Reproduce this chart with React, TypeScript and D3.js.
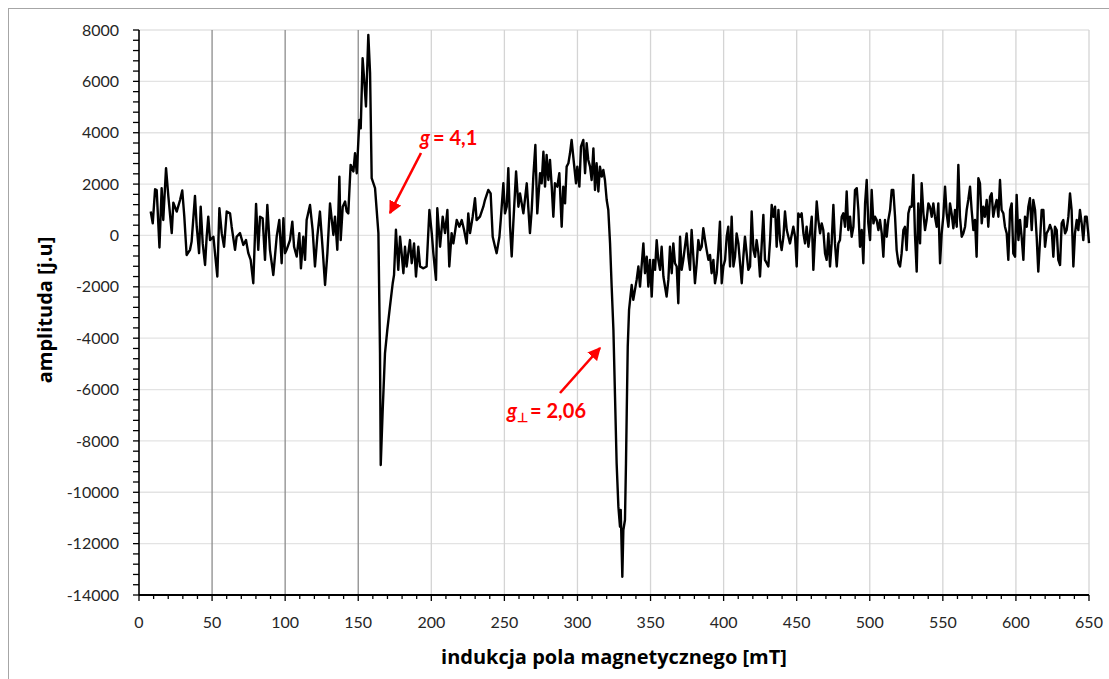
import React from "react";
import * as d3 from "d3";

const xTicks = [0, 50, 100, 150, 200, 250, 300, 350, 400, 450, 500, 550, 600, 650];
const yTicks = [8000, 6000, 4000, 2000, 0, -2000, -4000, -6000, -8000, -10000, -12000, -14000];
const xTitle = "indukcja pola magnetycznego [mT]";
const yTitle = "amplituda [j.u]";

// [field mT, amplitude]
const spectrum: [number, number][] = [
  [8.0, 930], [9.4, 470], [11.0, 1800], [12.1, 1770], [14.0, -470], [15.5, 1840], [16.6, 600], [18.5, 2620],
  [20.1, 1510], [22.4, 90], [23.5, 1280], [25.8, 930], [28.1, 1380], [29.6, 1750], [31.0, 730], [32.6, -760],
  [34.9, -560], [36.0, -240], [38.3, 1540], [39.5, 340], [41.1, -690], [42.2, 1120], [43.6, -310], [45.2, -1150],
  [46.3, -50], [47.4, 730], [48.6, -180], [50.9, -50], [52.0, -690], [53.6, -1600], [55.0, 1060], [56.6, 90],
  [58.2, -440], [60.0, 930], [62.3, 860], [63.4, 340], [65.7, -560], [66.8, -50], [69.1, 90], [71.4, -370],
  [73.2, -180], [74.8, -690], [76.4, -950], [78.2, -1860], [80.1, 1230], [81.6, -560], [82.8, 730], [84.6, 670],
  [86.2, -950], [87.8, 1190], [89.6, -560], [91.9, -1540], [94.2, -50], [96.0, 600], [97.6, -1080], [98.8, 670],
  [99.9, -690], [101.0, -560], [103.3, -180], [104.9, 540], [106.1, -440], [107.9, -820], [109.7, 90], [110.8, -1280],
  [112.4, -50], [113.6, -950], [114.7, 600], [117.0, 1190], [118.8, 220], [120.4, -1210], [122.0, -50], [123.8, 930],
  [125.7, -560], [127.3, -1930], [128.9, -690], [130.7, 1250], [133.0, 20], [134.1, 730], [135.7, -560], [137.1, 2290],
  [138.0, -180], [139.4, 1120], [141.0, 1320], [142.1, 930], [143.2, 860], [144.8, 2750], [146.7, 2490], [147.8, 3200],
  [149.0, 2420], [150.8, 4500], [151.7, 4170], [153.0, 6900], [154.0, 6120], [155.3, 5020], [156.9, 7810], [158.1, 6320],
  [159.2, 2230], [161.5, 1840], [163.8, 90], [164.9, -4590], [165.4, -8940], [166.7, -6860], [168.3, -4590], [169.9, -3680],
  [171.7, -2770], [173.6, -1860], [174.5, -1540], [175.8, 220], [177.4, -1340], [178.6, -50], [179.7, -690], [180.9, -1470],
  [182.0, -440], [183.1, -1210], [185.4, -180], [186.6, -1080], [188.2, -310], [189.5, -1600], [191.1, -440], [192.3, -1210],
  [194.6, -1280], [196.8, -1210], [198.7, 990], [200.3, 90], [201.4, -690], [203.2, -1730], [204.1, 1060], [206.0, -440],
  [207.8, 730], [209.4, 90], [211.0, 990], [212.3, -1210], [213.9, 90], [215.1, -310], [217.4, 600], [219.2, 340],
  [220.8, 600], [222.4, 220], [224.2, -310], [225.3, 860], [226.5, 90], [228.3, 730], [229.9, 1450], [231.0, 600],
  [233.3, 730], [235.6, 1120], [236.7, 1380], [239.0, 1770], [240.6, 1640], [242.0, -50], [243.6, -440], [244.7, -690],
  [246.6, -50], [247.5, 600], [249.3, 2030], [250.4, 860], [251.6, 1120], [252.7, 2620], [253.9, 340], [255.0, -820],
  [256.1, 470], [258.0, 2490], [259.6, 1120], [260.7, 1640], [263.0, 860], [265.3, 2030], [267.5, 90], [268.7, 990],
  [269.8, 2290], [271.2, 3520], [272.5, 860], [274.4, 2420], [275.5, 2030], [276.7, 3260], [277.8, 1900], [278.9, 3130],
  [280.1, 2160], [281.2, 2940], [282.4, 1900], [283.5, 730], [284.6, 2030], [286.2, 1900], [287.6, 2420], [289.2, 340],
  [290.3, 1900], [291.5, 1250], [292.6, 2680], [293.8, 2810], [294.9, 3200], [296.0, 3720], [297.6, 2810], [299.0, 2030],
  [299.9, 2680], [301.3, 1900], [302.4, 3460], [304.0, 3720], [305.2, 2420], [306.3, 3590], [307.4, 2940], [308.6, 2680],
  [309.7, 2160], [310.9, 3390], [312.0, 1770], [313.1, 2810], [314.3, 1710], [315.4, 2680], [316.6, 2290], [317.7, 2550],
  [318.8, 2160], [320.0, 1380], [321.1, 990], [322.3, -310], [323.4, -1990], [324.6, -3680], [325.7, -6280], [326.8, -8870],
  [328.0, -10560], [329.1, -11340], [329.6, -10690], [330.7, -13290], [331.4, -11470], [332.5, -11080], [333.2, -8870], [333.7, -6930],
  [334.4, -4330], [335.3, -2900], [337.1, -1930], [338.2, -2510], [340.5, -1730], [341.7, -1210], [342.8, -1990], [345.1, -310],
  [346.2, -1470], [347.4, -830], [348.5, -1990], [349.6, -950], [350.8, -2380], [351.9, -950], [353.1, -1340], [354.2, -180],
  [355.3, -950], [356.5, -1340], [357.6, -440], [358.8, -1600], [359.9, -1990], [361.0, -2380], [362.2, -1730], [363.3, -440],
  [364.5, -1470], [365.6, -310], [366.7, -1080], [367.9, -1210], [369.0, -2640], [370.2, -50], [371.3, -1340], [372.4, -950],
  [374.7, 80], [375.9, -830], [377.0, -1340], [378.1, 210], [379.3, -830], [380.4, -1860], [381.6, -1080], [382.7, -180],
  [383.9, -570], [385.0, -440], [386.1, 280], [387.3, -180], [388.4, -570], [389.6, -950], [390.7, -760], [391.8, -1470],
  [393.0, -950], [394.1, -1860], [395.3, -1470], [396.4, -570], [397.5, 540], [398.7, -1860], [399.8, -1210], [401.0, -950],
  [402.1, -50], [403.2, 340], [404.4, -1210], [405.5, 730], [406.7, -1210], [407.8, -830], [408.9, 80], [410.1, -310],
  [412.4, -1860], [413.5, -830], [414.6, -50], [416.9, -1340], [418.1, -1210], [419.2, 930], [420.4, -570], [421.5, -830],
  [422.6, -180], [423.8, -700], [424.9, -1600], [426.1, -310], [427.2, 800], [428.3, -950], [429.5, -1080], [430.6, -1210],
  [431.8, -180], [432.9, 1190], [434.0, 730], [435.2, 1120], [436.3, -440], [437.5, 990], [438.6, -180], [439.7, -570],
  [440.9, -50], [442.0, 930], [443.2, 210], [445.4, -310], [447.7, 340], [448.9, -50], [450.0, -1210], [451.1, 860],
  [452.3, 730], [453.4, 860], [454.6, 80], [455.7, -310], [456.8, 340], [458.0, -440], [459.1, 80], [460.3, 730],
  [461.4, -1340], [462.5, -50], [463.7, 1320], [464.8, 600], [466.0, 80], [467.1, 470], [468.2, 210], [469.4, -700],
  [470.5, -950], [471.7, 80], [472.8, -1210], [473.9, -310], [475.1, 1190], [476.2, -310], [477.4, -1210], [478.5, -310],
  [479.6, -180], [480.8, 730], [481.9, 860], [483.1, 340], [484.2, 1710], [485.3, 210], [486.5, 730], [487.6, -50],
  [488.8, 340], [489.9, 1770], [491.1, 1840], [492.2, 990], [493.3, -440], [494.5, 210], [495.6, -1080], [496.8, 1250],
  [497.9, 2160], [499.0, 470], [500.2, -180], [501.3, 1770], [502.5, 470], [503.6, 730], [504.7, 600], [505.9, 210],
  [507.0, 600], [508.2, 80], [509.3, -830], [510.4, 600], [511.6, -50], [512.7, 600], [513.9, 990], [515.0, 1770],
  [516.1, 1770], [517.3, 730], [518.4, -570], [519.6, -1080], [520.7, -1210], [521.8, -700], [523.0, 210], [524.1, 340],
  [525.2, -570], [526.4, 860], [527.5, 1120], [528.7, 1120], [529.8, 2360], [530.9, 80], [532.1, -1410], [533.2, 1250],
  [534.4, -310], [535.5, 2030], [536.7, 860], [537.8, 210], [538.9, 600], [540.1, 1250], [541.2, 1120], [542.4, 730],
  [543.5, 1250], [544.6, 730], [545.8, 340], [546.9, 1250], [548.1, -1080], [549.2, 80], [550.3, 730], [551.5, 1900],
  [552.6, 860], [553.8, 340], [554.9, 1250], [556.0, 860], [557.2, 280], [558.3, 990], [559.5, 340], [560.6, 2750],
  [561.7, 730], [562.9, -50], [564.0, 80], [565.2, 340], [566.3, 990], [567.4, 1380], [568.6, 1900], [569.7, 990],
  [570.9, 210], [572.0, 600], [573.1, -830], [574.3, 2230], [575.4, 2030], [576.6, 470], [577.7, 1120], [578.8, 730],
  [580.0, 1380], [581.1, 340], [582.3, 1510], [583.4, 1640], [584.5, 730], [585.7, 1120], [586.8, 1380], [588.0, 730],
  [589.1, 2160], [590.2, 990], [591.4, 860], [592.5, 340], [593.7, 80], [594.8, -950], [596.0, 990], [597.1, 1250],
  [598.2, -700], [599.4, -830], [600.5, 1580], [601.7, -180], [602.8, 600], [603.9, -50], [605.1, -950], [606.2, 730],
  [607.4, 340], [608.5, 1120], [609.6, 1450], [610.8, 210], [611.9, 1380], [613.1, 990], [614.2, -50], [615.3, -1410],
  [616.5, -180], [617.6, 990], [618.8, 990], [619.9, -440], [621.0, 80], [622.2, 210], [623.3, 410], [624.5, 210],
  [625.6, -830], [626.7, 340], [627.9, 210], [629.0, -950], [630.2, -1150], [631.3, 470], [632.4, 600], [633.6, 80],
  [634.7, 210], [635.9, 730], [637.0, 1640], [638.1, 990], [639.3, -1210], [640.4, 80], [641.6, 600], [642.7, 210],
  [643.8, 990], [645.0, 470], [646.1, -180], [647.3, 730], [648.4, 730], [649.5, 80], [650.0, -300],
];

const W = 1109;
const H = 679;
const M = { left: 139, right: 1089, top: 30, bottom: 595 };

export default function App() {
  const x = d3.scaleLinear().domain([0, 650]).range([M.left, M.right]);
  const y = d3.scaleLinear().domain([-14000, 8000]).range([M.bottom, M.top]);
  const line = d3
    .line<[number, number]>()
    .x((d) => x(d[0]))
    .y((d) => y(d[1]))
    .curve(d3.curveLinear);
  const xMinor = d3.range(0, 651, 10);
  const yMinor = d3.range(-14000, 8001, 400);
  const font = "Lato, 'Open Sans', Arial, sans-serif";
  const titleFont = "'Open Sans', Lato, Arial, sans-serif";
  const red = "#ff0000";

  return (
    <svg
      width={W}
      height={H}
      style={{ position: "absolute", left: 0, top: 0, background: "#fff" }}
      fontFamily={font}
    >
      <defs>
        <marker id="ah" viewBox="0 0 10 10" refX="9" refY="5" markerWidth="5" markerHeight="5" orient="auto">
          <path d="M0,0 L10,5 L0,10 z" fill={red} />
        </marker>
      </defs>
      <rect x={8.5} y={8.5} width={1200} height={800} fill="#fff" stroke="#a6a6a6" strokeWidth={1} />
      {/* horizontal gridlines */}
      {yTicks.map((t) => (
        <line key={"hg" + t} x1={M.left} x2={M.right} y1={y(t)} y2={y(t)} stroke="#e3e3e3" strokeWidth={1.3} />
      ))}
      {/* vertical gridlines */}
      {xTicks.filter((t) => t > 0).map((t) => (
        <line
          key={"vg" + t}
          x1={x(t)}
          x2={x(t)}
          y1={M.top}
          y2={M.bottom}
          stroke={t <= 150 ? "#8c8c8c" : "#d4d4d4"}
          strokeWidth={1.3}
        />
      ))}
      {/* data */}
      <path d={line(spectrum) || ""} fill="none" stroke="#000" strokeWidth={2.4} strokeLinejoin="round" />
      {/* axes */}
      <line x1={M.left} x2={M.left} y1={M.top} y2={M.bottom} stroke="#000" strokeWidth={1.6} />
      <line x1={M.left} x2={M.right} y1={M.bottom} y2={M.bottom} stroke="#000" strokeWidth={1.8} />
      {yMinor.map((t) => (
        <line key={"ym" + t} x1={M.left - 6} x2={M.left} y1={y(t)} y2={y(t)} stroke="#000" strokeWidth={1.3} />
      ))}
      {xMinor.map((t) => (
        <line key={"xm" + t} x1={x(t)} x2={x(t)} y1={M.bottom} y2={M.bottom + (t % 50 === 0 ? 6 : 4)} stroke="#000" strokeWidth={1.3} />
      ))}
      {yTicks.map((t) => (
        <text key={"yl" + t} x={119} y={y(t)} dy="0.35em" textAnchor="end" fontSize={16} fill="#262626">
          {t}
        </text>
      ))}
      {xTicks.map((t) => (
        <text key={"xl" + t} x={x(t)} y={628} textAnchor="middle" fontSize={16} fill="#262626">
          {t}
        </text>
      ))}
      <text x={614} y={664} textAnchor="middle" fontSize={20} fontWeight="bold" fill="#000" fontFamily={titleFont}>
        {xTitle}
      </text>
      <text
        transform="translate(52,310) rotate(-90)"
        textAnchor="middle"
        fontSize={20}
        fontWeight="bold"
        fill="#000"
        fontFamily={titleFont}
      >
        {yTitle}
      </text>
      {/* annotations */}
      <line x1={421} x2={390} y1={153} y2={213} stroke={red} strokeWidth={2.6} markerEnd="url(#ah)" />
      <text x={420} y={145} fontSize={20} fontWeight="bold" fill={red}>
        <tspan fontStyle="italic">g</tspan>
        <tspan dx={3}>= 4,1</tspan>
      </text>
      <line x1={560} x2={600} y1={393} y2={348} stroke={red} strokeWidth={2.6} markerEnd="url(#ah)" />
      <text x={507} y={418} fontSize={20} fontWeight="bold" fill={red}>
        <tspan fontStyle="italic">g</tspan>
        <tspan fontSize={13} dy={4}>⊥</tspan>
        <tspan dy={-4} dx={2}>= 2,06</tspan>
      </text>
    </svg>
  );
}
